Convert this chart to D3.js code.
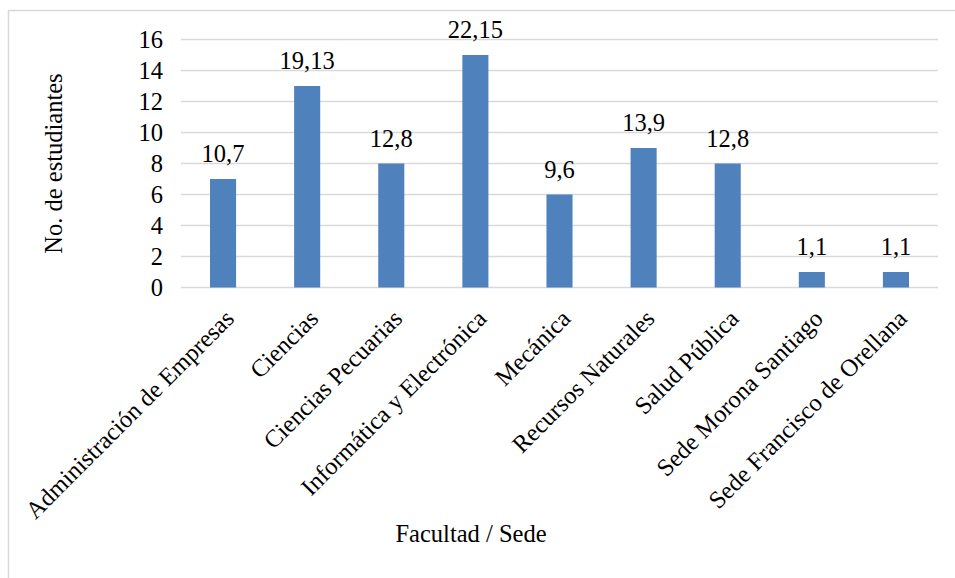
<!DOCTYPE html>
<html><head><meta charset="utf-8">
<script src="https://cdn.jsdelivr.net/npm/d3@7"></script>
</head>
<body style="margin:0">
<svg id="chart" width="955" height="578"></svg>
<script>
const categories = ["Administración de Empresas","Ciencias","Ciencias Pecuarias","Informática y Electrónica","Mecánica","Recursos Naturales","Salud Pública","Sede Morona Santiago","Sede Francisco de Orellana"];
const values = [7,13,8,15,6,9,8,1,1];
const dataLabels = ["10,7","19,13","12,8","22,15","9,6","13,9","12,8","1,1","1,1"];
const yTicks = [0,2,4,6,8,10,12,14,16];
const yTitle = "No. de estudiantes";
const xTitle = "Facultad / Sede";

const FONT = "Tinos, Liberation Serif, Times New Roman, serif";
const svg = d3.select("#chart").attr("font-family",FONT);
const fs = 24.5;
svg.append("rect").attr("x",8.5).attr("y",10.5).attr("width",1000).attr("height",1000)
  .attr("fill","none").attr("stroke","#d9d9d9").attr("stroke-width",1.5);

const x = d3.scaleBand().domain(categories).range([181,938]).paddingInner(0.69).paddingOuter(0.345);
const y = d3.scaleLinear().domain([0,16]).range([287.5,39.5]);

svg.append("g").selectAll("line").data(yTicks).join("line")
  .attr("x1",181).attr("x2",938)
  .attr("y1",d=>y(d)).attr("y2",d=>y(d))
  .attr("stroke","#d9d9d9").attr("stroke-width",1.5);

const yAxis = d3.axisLeft(y).tickValues(yTicks).tickSize(0).tickPadding(0).tickFormat(d3.format("d"));
const gy = svg.append("g").attr("transform","translate(163,0)").call(yAxis);
gy.attr("font-family",FONT).attr("font-size",fs);
gy.select(".domain").remove();
gy.selectAll("text").attr("fill","#000").attr("dy","0.34em");

svg.append("g").selectAll("rect").data(values).join("rect")
  .attr("x",(d,i)=>x(categories[i]))
  .attr("width",x.bandwidth())
  .attr("y",d=>y(d))
  .attr("height",d=>y(0)-y(d))
  .attr("fill","#4f81bd");

svg.append("g").attr("font-family",FONT).attr("font-size",fs)
  .selectAll("text").data(values).join("text")
  .attr("x",(d,i)=>x(categories[i])+x.bandwidth()/2)
  .attr("y",d=>y(d)-17)
  .attr("text-anchor","middle").attr("fill","#000")
  .text((d,i)=>dataLabels[i]);

const xAxis = d3.axisBottom(x).tickSize(0).tickPadding(0);
const gx = svg.append("g").attr("transform","translate(0,287.5)").call(xAxis);
gx.attr("font-family",FONT).attr("font-size",fs);
gx.select(".domain").remove();
gx.selectAll("text")
  .attr("fill","#000")
  .attr("text-anchor","end").attr("dy",null).attr("y",0)
  .attr("transform","translate(12.5,32.5) rotate(-45)");

svg.append("text").attr("transform","translate(62,163.5) rotate(-90)")
  .attr("text-anchor","middle").attr("font-size",fs).attr("fill","#000").text(yTitle);
svg.append("text").attr("x",471).attr("y",541.5)
  .attr("text-anchor","middle").attr("font-size",fs).attr("fill","#000").text(xTitle);
</script>
</body></html>
